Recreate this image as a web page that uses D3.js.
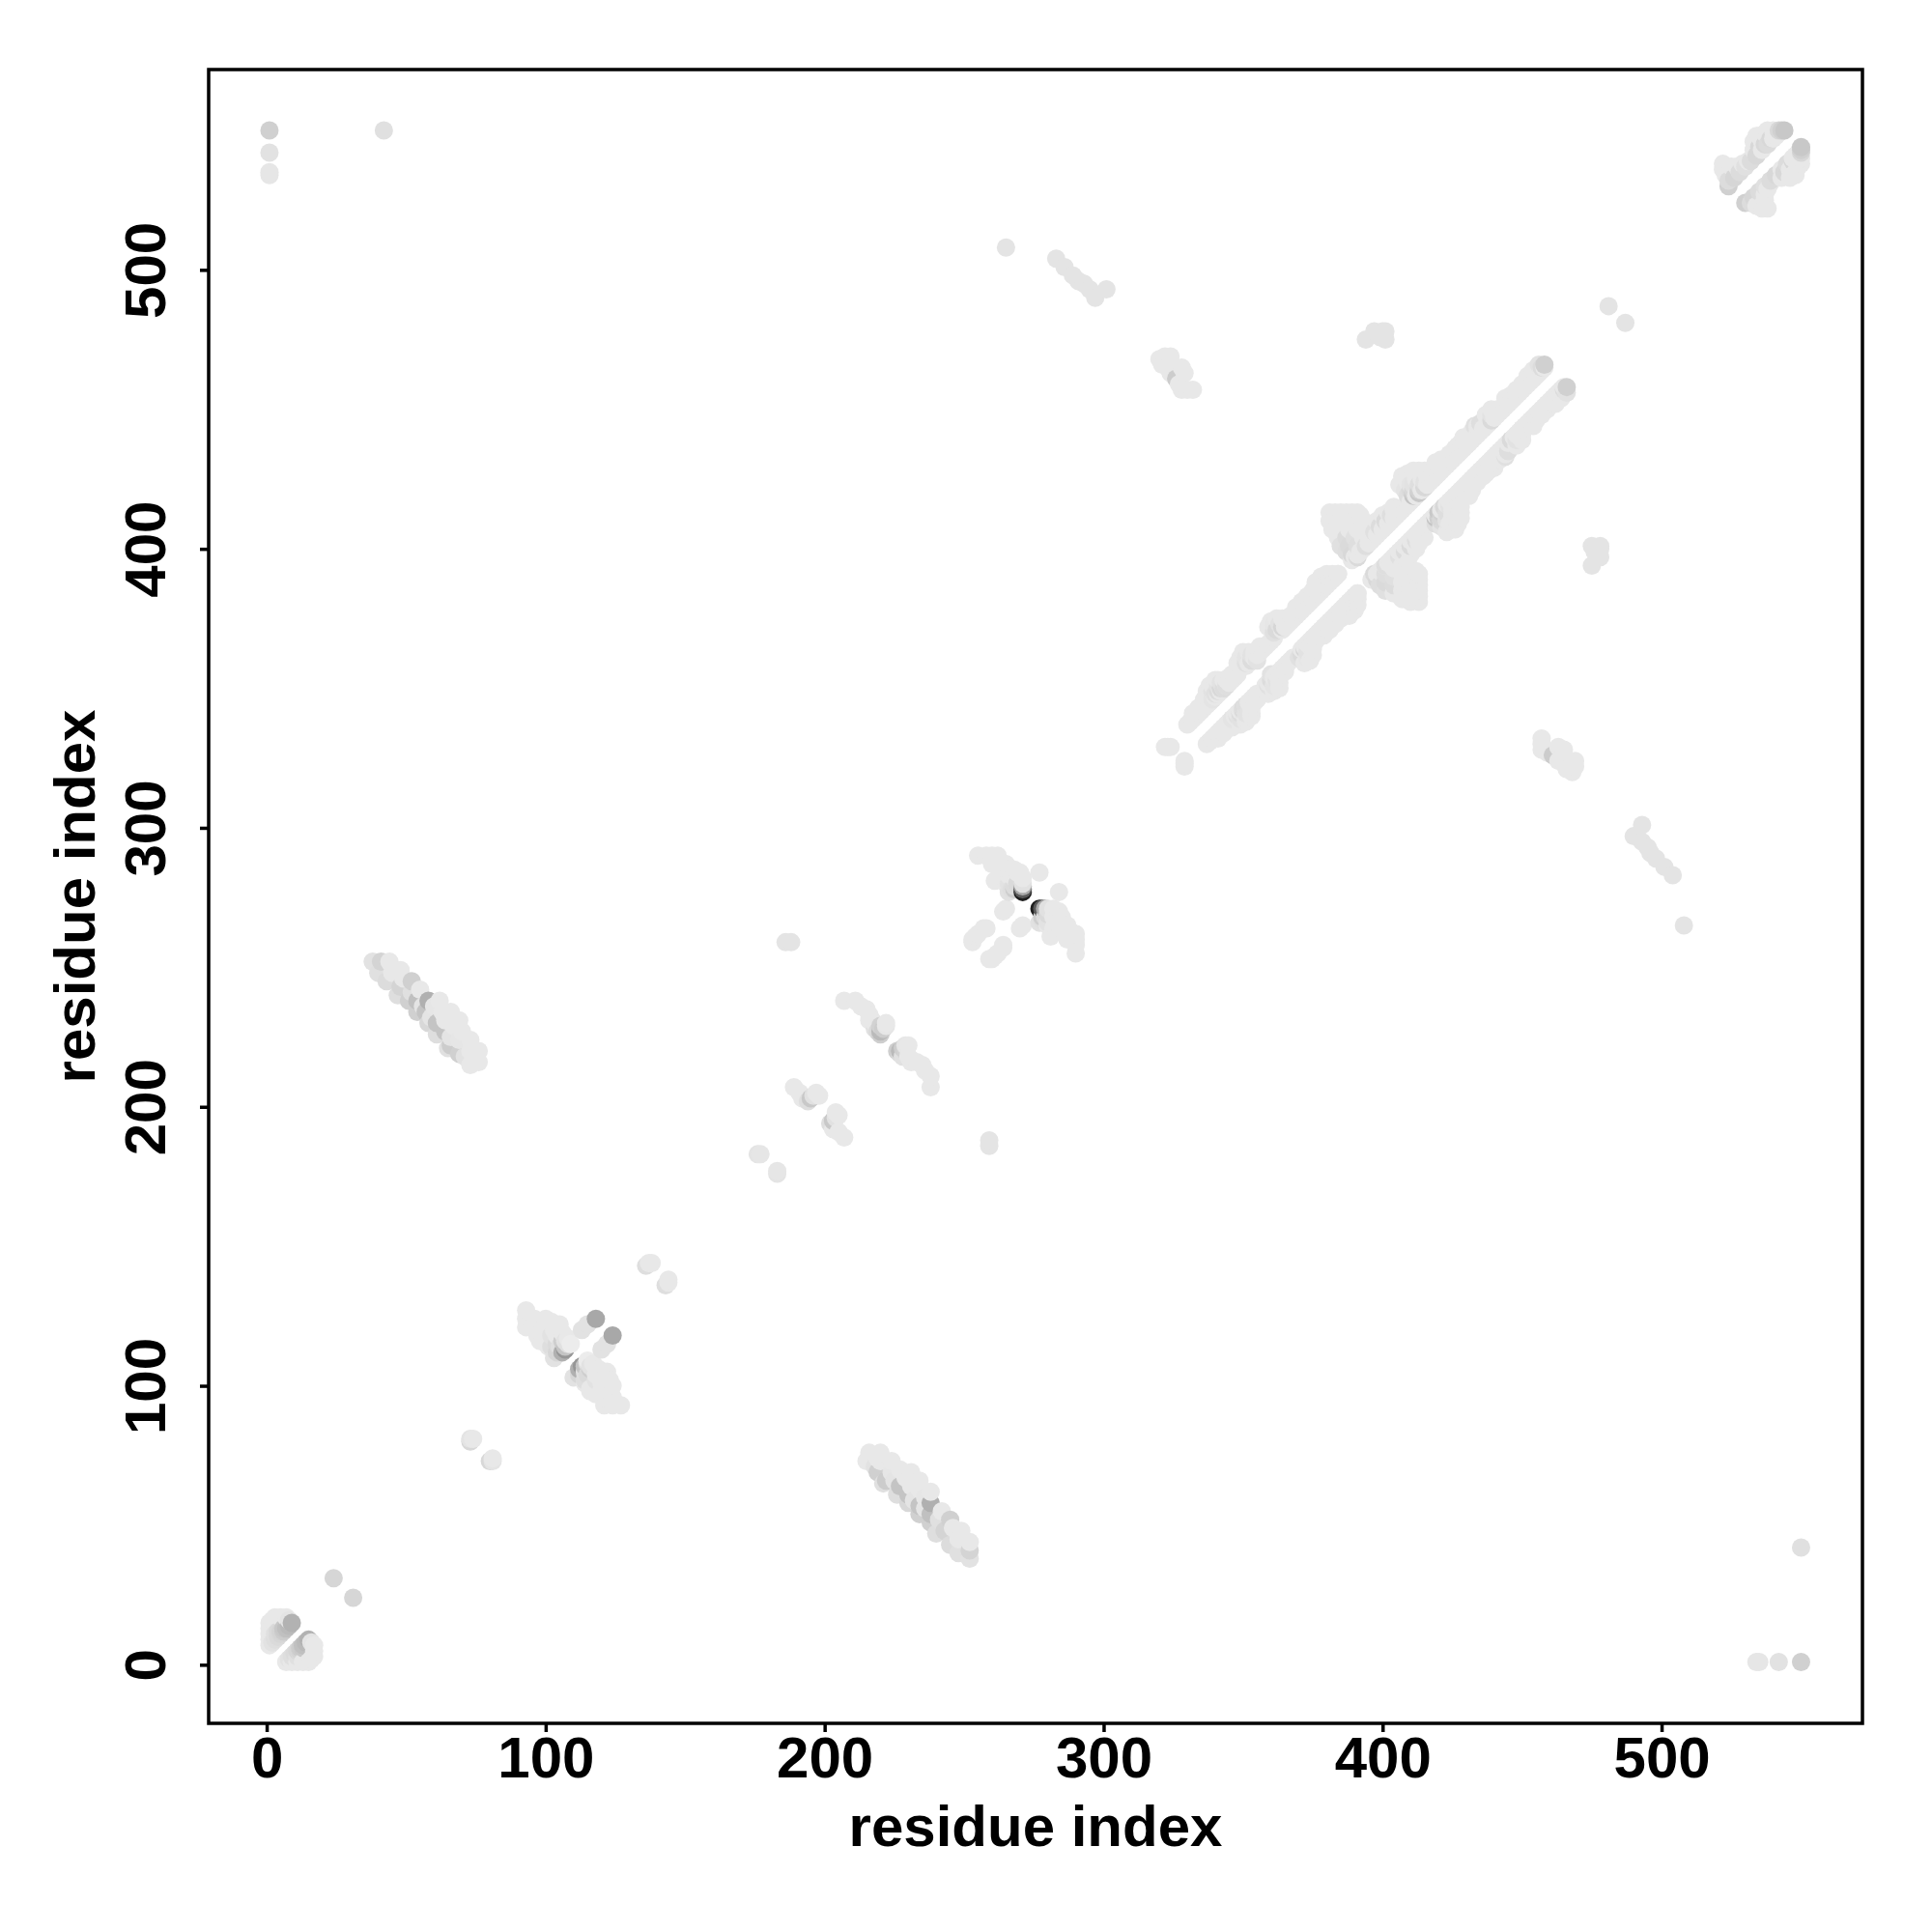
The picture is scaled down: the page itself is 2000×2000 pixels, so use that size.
<!DOCTYPE html>
<html><head><meta charset="utf-8">
<script src="https://cdn.jsdelivr.net/npm/d3@7"></script>
<style>html,body{margin:0;padding:0;background:#fff}svg{display:block}</style>
</head><body><div id="chart"></div>
<script>
const tickValues=[0,100,200,300,400,500];
const axisLabel="residue index";
// contacts: [residue i, residue j, grey level (default lightGrey)]
const lightGrey=232;
const isolated=[[1,550,208],[1,542,226],[1,534,230],[1,535,230],[42,550,224],[24,31,214],
[73,80,216],[74,81,232],[73,81,228],[136,143,222],[137,144,232],[138,144,232],
[176,183,228],[177,183,230],[186,259,228],[188,259,228],[265,508,228],
[283,504,228],[286,501,228],[289,498,228],[291,496,228],[293,495,228],[295,493,228],[297,490,228],[301,493,228],
[481,487,228],[394,475,228],[397,478,228],[400,478,228],[401,478,228],[401,475,228],[399,476,228],
[320,468],[321,466],[322,469],[324,469],[323,465],[324,463],[326,461,204],[327,459],[328,465],[329,463],[328,457],[330,457],[332,457],
[322,329],[323,329],[324,329]];
const clusterStart=[[1,7],[1,9],[1,11],[1,13],[1,15],[2,16],[3,17],[5,17],[7,17],[8,16,228],
[2,8,226],[3,9,222],[4,10,218],[5,11,214],[3,11,224],[4,12,218],[5,12,212],[6,12,204],[6,13,200],[7,13,192],[8,14,186],[9,15,178]];
const clusterStrandA=[[38,252,226],[40,248,224],[41,252,212],[43,245,220],[44,252],[45,248],[47,240,222],[48,243,212],[48,249],[49,246],
[51,238,208],[52,241,224],[52,245,208],[54,234,208],[54,238,192],[55,242],[56,236,228],[57,234,196],[58,230,216],[58,238,176],[59,232,228],[60,236,230],
[61,226,222],[61,230,196],[62,238],[63,234],[64,227,196],[64,231],[65,221,224],[66,222,204],[66,225,228],[66,234],[67,229],[69,219,208],[69,224,230],[69,231],[70,227],
[71,218,226],[73,215],[73,220],[73,224],[74,219],[76,216],[76,220]];
const clusterHairpinA=[[93,121],[93,124],[93,127],[95,122],[96,124],[97,118],[98,120],[98,116],[99,116],[99,122],[100,118],[100,124],[101,114],[101,120],[102,123],[102,114,222],[102,118,226],
[103,110,226],[103,120],[104,112,214],[104,115,218],[104,118],[105,114,224],[105,122],[106,112,176],[106,116,206],[106,119],[107,113,150],[107,114,196],[107,116,226],[108,115,224],[108,117],
[109,115,236],[113,120,226],[115,122,226],[118,124,168]];
const clusterHelixB=[[189,207],[191,205],[192,203],[194,202,222],[195,203,200],[196,204,225],[197,205],[198,204]];
const clusterHairpinB=[[207,238],[211,238],[213,236],[215,235],[216,233],[217,231],[218,230],[216,231],[218,228,225],[219,227,218],[220,226,206],[220,227,186],[220,229,210],[221,228,205],[222,229,230],[222,230]];
const clusterCross=[[253,259],[253,260],[254,261],[255,262],[257,264],[258,264],[255,290],[258,290],[260,290],[262,290],[260,287],[262,286],[263,288],[263,283],[264,285],[265,287],[266,285],
[261,281],[264,282],[265,280],[266,283],[264,270],[265,271],[266,277,225],[266,280,226],[267,283],[267,278,222],[268,279,220],[268,282],[268,285],[269,280,218],[269,284],[268,278,205],[270,284],[271,277,30],[271,278,90],[271,279,170],[271,280,225],[271,282],[277,284]];
const clusterTopRight=[[522,536],[522,538],[523,534],[523,536],[524,530,208],[524,532,220],[525,537],[526,533,214],[527,537],[528,535,220],[529,538],[530,537,224],[531,539],
[532,539,220],[533,543],[533,546],[534,541,216],[534,548],[535,544,216],[535,548],[536,543],[536,546],[537,545,216],[537,549],[538,545,220],[538,550],[539,547,216],[540,547],[540,550],[541,548],[542,549],[542,550,216],[543,550,208],[544,550,200]];
const mainBase=[[330,337],[331,338],[332,339],[333,340],[334,341],[335,342],[336,343],[337,344],[338,345],[339,346],[340,347],[341,348],[342,349],[343,350],[344,351],[345,352],[346,353],[347,354],[348,355],
[351,358],[352,359],[353,360],[354,361],[355,362],[356,363],[357,364],[358,365],[359,366],[360,367],[361,368],[364,371],[365,372],[366,373],[367,374],[368,375],[369,376],[370,377],[371,378],[372,379],[373,380],[374,381],[375,382],[376,383],[377,384],[378,385],[379,386],[380,387],[381,388],[382,389],[383,390],[384,391],
[389,396],[390,397],[391,398],[392,399],[393,400],[394,401],[395,402],[396,403],[397,404],[398,405],[399,406],[400,407],[401,408],[402,409],[403,410],[404,411],[405,412],[406,413],[407,414],[408,415],[409,416],[410,417],[411,418],[412,419],[413,420],[414,421],[415,422],[416,423],[417,424],[418,425],[419,426],[420,427],[421,428],[422,429],[423,430],[424,431],[425,432],[426,433],[427,434],[428,435],[429,436],[430,437],[431,438],[432,439],[433,440],[434,441],[435,442],[436,443],[437,444],[438,445],[439,446],[440,447],[441,448],[442,449],[443,450],[444,451],[445,452],[446,453],[447,454],[448,455],[449,456],[450,457],[451,458],[452,459],[453,460],[454,461],[455,462],[456,463],[457,464],[458,465]];
const mainOuter=[[332,341],[334,343],[346,355],[356,365],[367,376],[369,379],[371,381],[373,383],[375,385],[377,387],[379,389],[381,390],[383,390],[404,414],[418,428],[420,430],[422,432],[424,434],[426,436],[428,438],[430,440],[432,442],[434,444],[444,454],[446,455],[448,457],[450,459],[452,462],[454,464],[456,466,226],[457,465,220],[458,466,208]];
const mainBulges=[
[336,346],[337,349],[338,351],[339,346,228],[339,349,226],[339,351],[340,348,224],[340,353],[341,349,220],[341,351,226],[341,353],[342,350,216],[342,352,226],[343,350,220],[343,353],[344,351,222],[344,353],[345,354],
[348,359],[349,361],[350,363],[351,359,224],[351,361,228],[352,363],[353,360,220],[353,362,226],[354,363],[355,363],[355,360,226],
[359,372],[360,374],[361,370,224],[361,373,230],[362,371,218],[362,375],[363,373,226],[364,372,214],[364,375],[365,374],
[376,388],[378,390],[380,391],[382,391],[384,391]];
const mainArm=[[381,413],[381,410],[382,407],[383,413],[384,410],[384,404],[385,413],[385,407],[385,401,224],[387,413],[387,410],[387,404,220],[387,399,222],
[388,407],[388,401,218],[389,413],[389,398,216],[390,410],[390,404,224],[391,413],[391,407],[391,401,222],[391,397,218],[392,412],[393,410],[393,404],[394,407],[394,401,222],[395,409],[395,404]];
const mainUpper=[[396,408],[397,406,224],[398,410],[399,408,220],[400,412],[401,410,218],[402,413],[403,412,222],[404,415],[405,414],
[406,423],[407,426],[408,421,228],[409,419,222],[409,424],[409,427],[410,421,218],[410,423,228],[411,419,196],[411,420,206],[411,421,216],[411,423,226],[411,428],[412,425],[413,420,200],[413,421,210],[413,423,222],[413,428],[414,425],[415,422,216],[415,424,226],[415,428],[416,426],[417,427],
[419,431],[421,432],[423,432],[427,437],[429,440],[431,440],[433,444,224],[435,445,222],[437,448],[439,450],[439,446,218],[439,448,226],[441,450],[443,450]];
const contactGroups=[isolated,clusterStart,clusterStrandA,clusterHairpinA,clusterHelixB,clusterHairpinB,clusterCross,clusterTopRight,mainBase,mainOuter,mainBulges,mainArm,mainUpper];

const W=2000,H=2000,L=216,R=1928,T=72,B=1784;
const svg=d3.select("#chart").append("svg").attr("width",W).attr("height",H).style("background","#fff");
const x=d3.scaleLinear().domain([-20.8,572]).range([L,R]);
const y=d3.scaleLinear().domain([-21,571.8]).range([B,T]);

const pts=[];
contactGroups.forEach(g=>g.forEach(([i,j,v])=>{
  const g2=v===undefined?lightGrey:v;
  pts.push({px:i,py:j,g:g2});pts.push({px:j,py:i,g:g2});
}));
pts.sort((a,b)=>d3.ascending(a.px,b.px)||d3.ascending(a.py,b.py));
svg.append("g").selectAll("circle").data(pts).join("circle")
  .attr("cx",d=>x(d.px)).attr("cy",d=>y(d.py)).attr("r",9.5)
  .attr("fill",d=>d3.rgb(d.g,d.g,d.g).formatHex());

const font="'Liberation Sans',Arial,sans-serif";
const xa=svg.append("g").attr("transform",`translate(0,${B})`).call(d3.axisBottom(x).tickValues(tickValues).tickSize(9));
const ya=svg.append("g").attr("transform",`translate(${L},0)`).call(d3.axisLeft(y).tickValues(tickValues).tickSize(9));
[xa,ya].forEach(a=>{a.select(".domain").remove();
  a.selectAll("line").attr("stroke","#000").attr("stroke-width",3.5);
  a.selectAll("text").attr("fill","#000").style("font-family",font).style("font-size","60px").style("font-weight","bold");});
xa.selectAll("text").attr("dy",null).attr("y",56);
ya.selectAll("text").attr("x",null).attr("dy",null)
  .attr("text-anchor","middle")
  .attr("transform","translate(-45,0) rotate(-90)");
svg.append("rect").attr("x",L).attr("y",T).attr("width",R-L).attr("height",B-T).attr("fill","none").attr("stroke","#000").attr("stroke-width",3.5);
svg.append("text").attr("x",(L+R)/2).attr("y",1911).attr("text-anchor","middle")
  .style("font-family",font).style("font-size","60px").style("font-weight","bold").text(axisLabel);
svg.append("text").attr("transform",`translate(98,${(T+B)/2}) rotate(-90)`).attr("text-anchor","middle")
  .style("font-family",font).style("font-size","60px").style("font-weight","bold").text(axisLabel);
</script></body></html>
